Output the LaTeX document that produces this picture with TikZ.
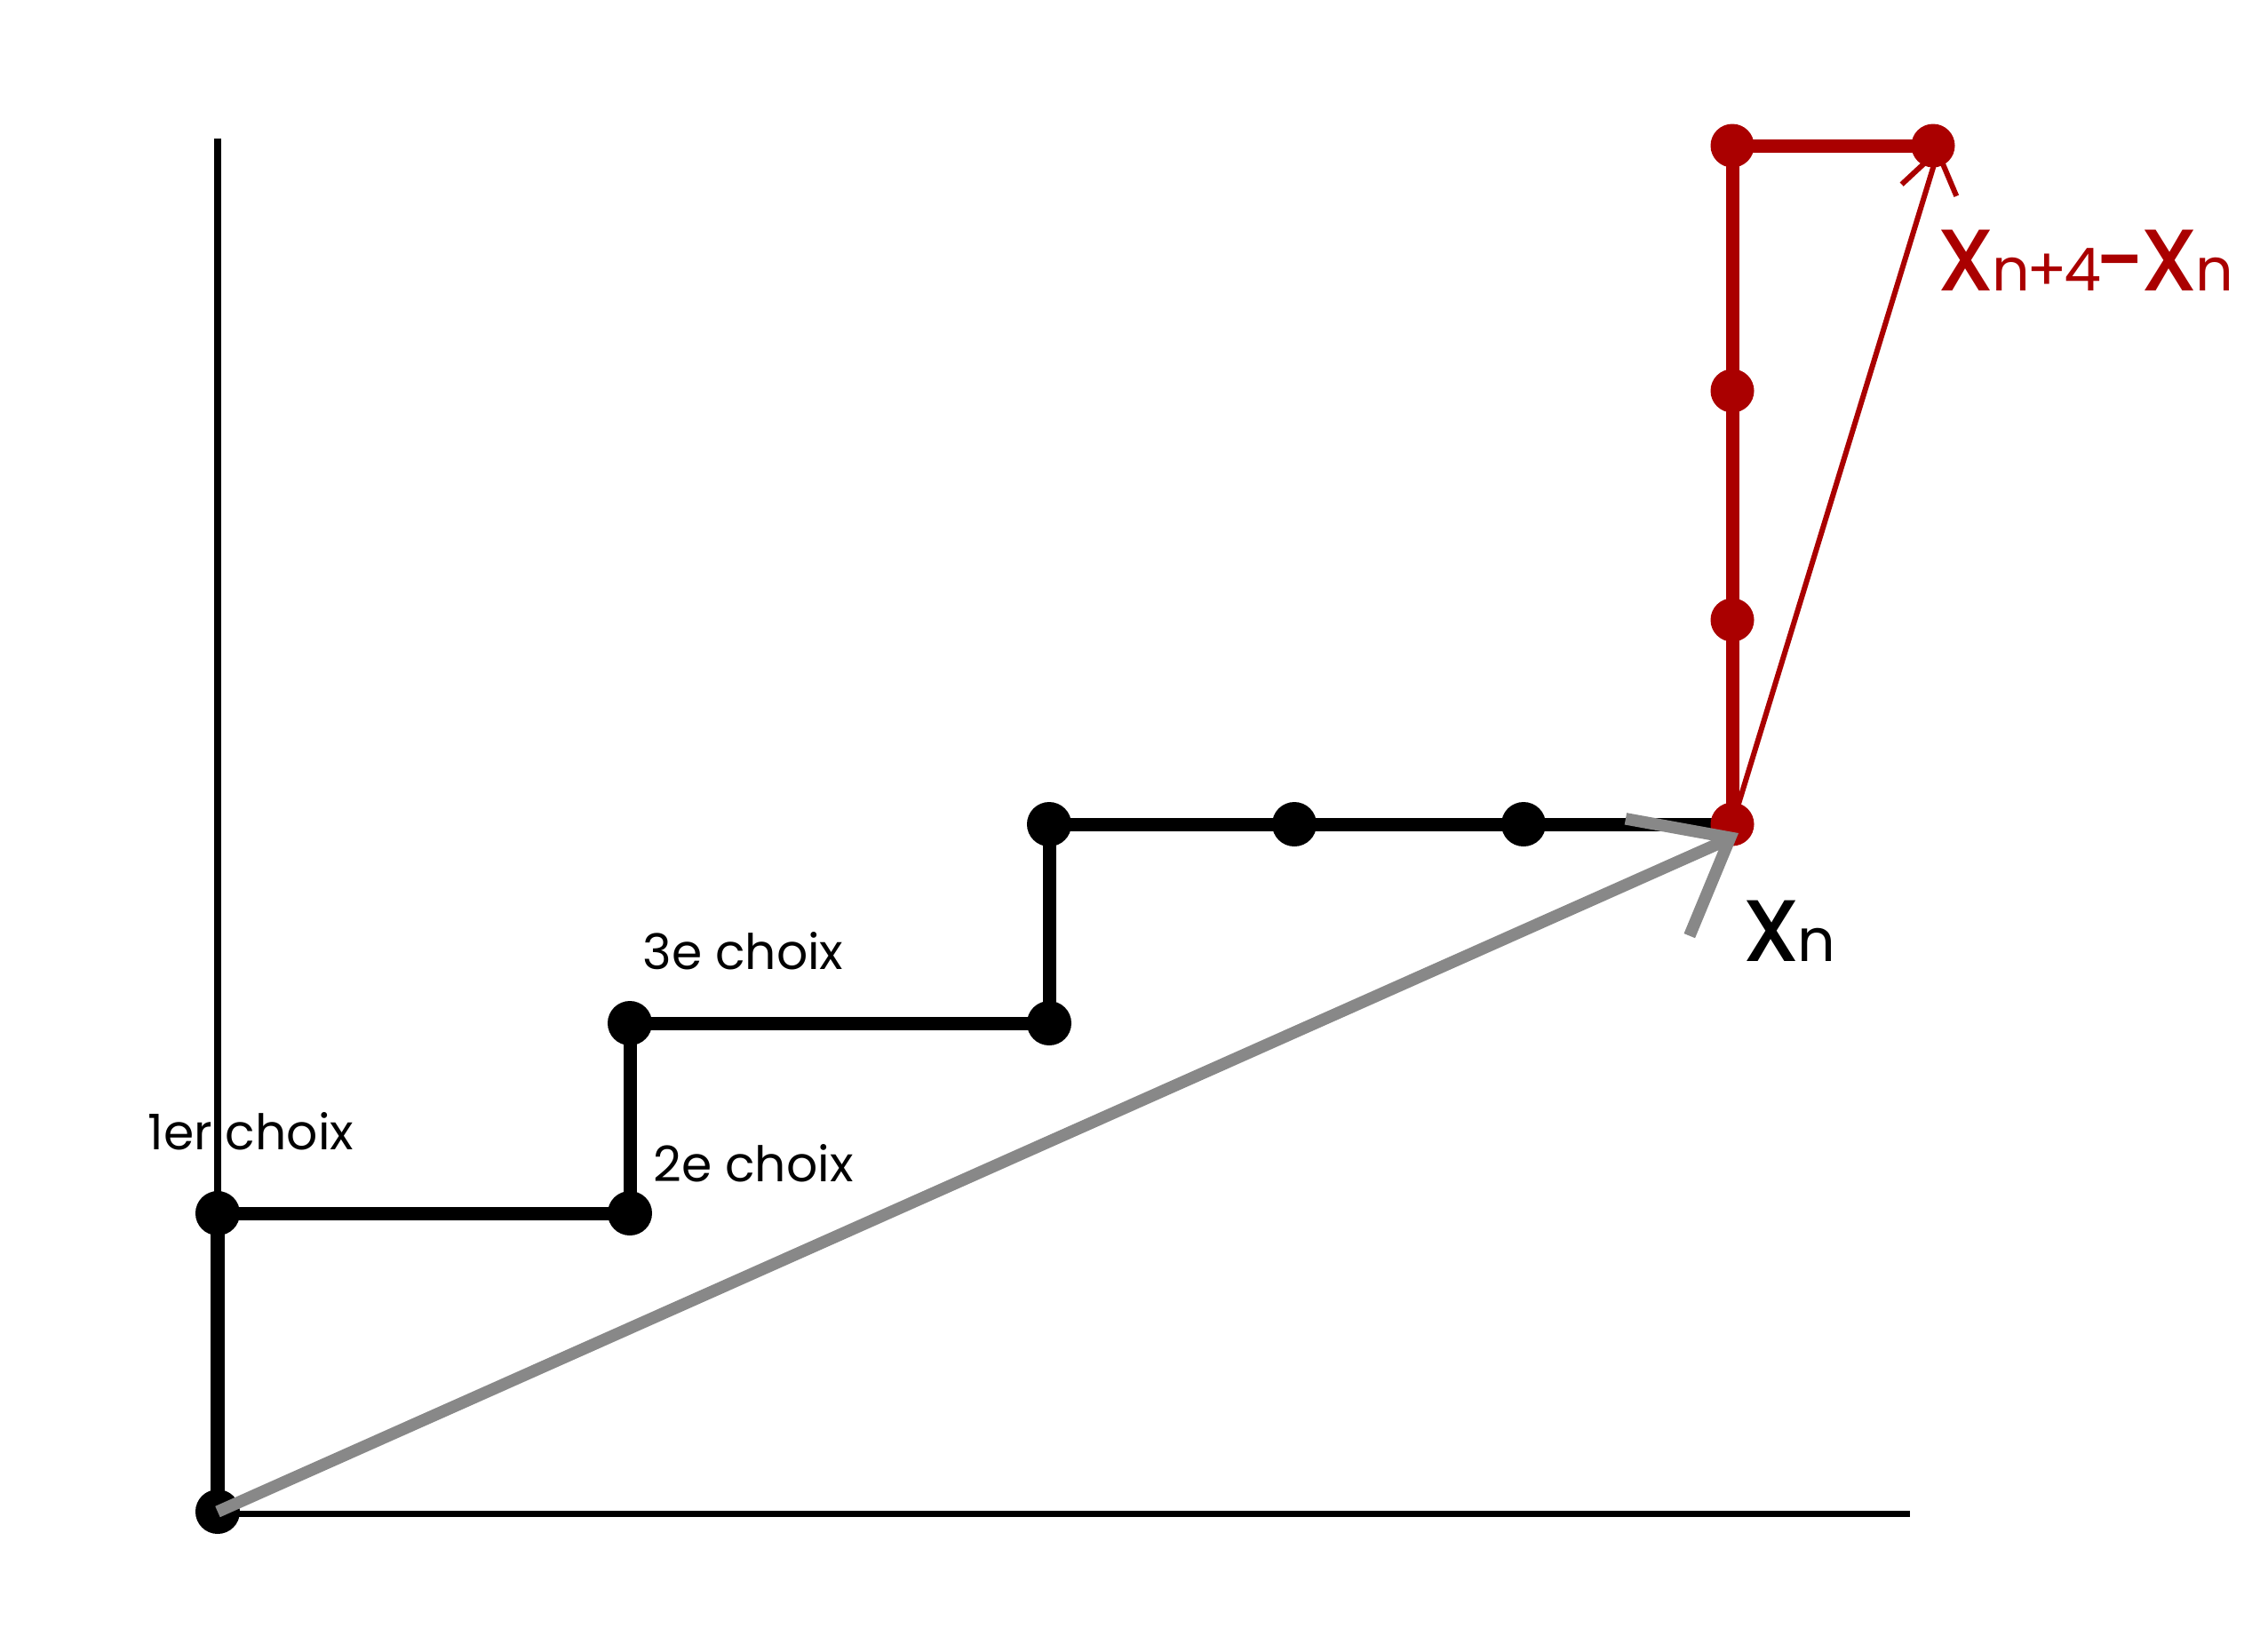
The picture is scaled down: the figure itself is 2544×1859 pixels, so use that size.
\documentclass[tikz,border=0pt]{standalone}
\usepackage{fontspec}
\setmainfont{Poppins}
\IfFontExistsTF{Poppins Medium}{\newfontfamily\popmed{Poppins Medium}}{\newfontfamily\popmed{Poppins}[FakeBold=1]}
\usetikzlibrary{arrows.meta}
\definecolor{myred}{RGB}{170,0,0}
\definecolor{mygray}{RGB}{136,136,136}
\newcommand{\bigX}{\popmed\fontsize{28pt}{30pt}\selectfont}
\newcommand{\smallN}{\fontsize{19pt}{21pt}\selectfont}
\begin{document}
\begin{tikzpicture}[x=0.01cm,y=-0.01cm,
  dot/.style={circle,fill=black,inner sep=0pt,minimum size=0.5cm},
  rdot/.style={circle,fill=myred,inner sep=0pt,minimum size=0.49cm},
  axisline/.style={line width=0.07cm,black},
  pathline/.style={line width=0.15cm,black},
  redline/.style={line width=0.15cm,myred},
  grayarrow/.style={line width=0.135cm,mygray,-{Straight Barb[length=0.93cm,width=1.5cm]}},
  redarrow/.style={line width=0.06cm,myred,-{Straight Barb[length=0.45cm,width=0.63cm]}},
  lbl/.style={font=\fontsize{15.7pt}{18pt}\selectfont,anchor=base west,inner sep=0pt}]
\useasboundingbox (0,0) rectangle (2544,1859);
% nodes
\coordinate (ytop) at (245,156);
\coordinate (xend) at (2150,1704);
\coordinate (Oax) at (245,1704);
\node[dot] (O) at (245,1702) {};
\node[dot] (A1) at (245,1366) {};
\node[dot] (A2) at (709,1366) {};
\node[dot] (A3) at (709,1152) {};
\node[dot] (A4) at (1181,1152) {};
\node[dot] (A5) at (1181,928) {};
\node[dot] (A6) at (1457,928) {};
\node[dot] (A7) at (1715,928) {};
% axes
\draw[axisline] (ytop) -- (O.center);
\draw[axisline] (Oax) -- (xend);
% black path
\draw[pathline] (O.center) -- (A1.center) -- (A2.center) -- (A3.center) -- (A4.center) -- (A5.center) -- (A6.center) -- (A7.center) -- (1950,928);
% red part
\node[rdot] (R0) at (1950,928) {};
\node[rdot] (R1) at (1950,698) {};
\node[rdot] (R2) at (1950,440) {};
\node[rdot] (R3) at (1950,164) {};
\node[rdot] (R4) at (2176,164) {};
\draw[redline] (R0.center) -- (R1.center) -- (R2.center) -- (R3.center) -- (R4.center);
\coordinate (RT0) at (2179,179);
\coordinate (RT) at (2182,165);
\draw[redarrow] (R0.center) -- (RT0) -- (RT);
% gray arrow
\coordinate (T0) at (1939.4,947.6);
\coordinate (T) at (1957,938);
\draw[grayarrow] (O.center) -- (T0) -- (T);
% labels
\node[lbl] (l1) at (166,1294) {1er choix};
\node[lbl] (l2) at (735,1330) {2e choix};
\node[lbl] (l3) at (723,1091) {3e choix};
\node[anchor=base west,inner sep=0pt] (xn) at (1961,1082) {{\bigX X}\kern-0.03cm{\smallN n}};
\node[anchor=base west,inner sep=0pt,text=myred] (xd) at (2180,327) {{\bigX X}\kern-0.03cm{\smallN n\kern-0.04cm+\kern-0.04cm4}\kern-0.08cm{\bigX -}\kern-0.05cm{\bigX X}\kern-0.03cm{\smallN n}};
\end{tikzpicture}
\end{document}
